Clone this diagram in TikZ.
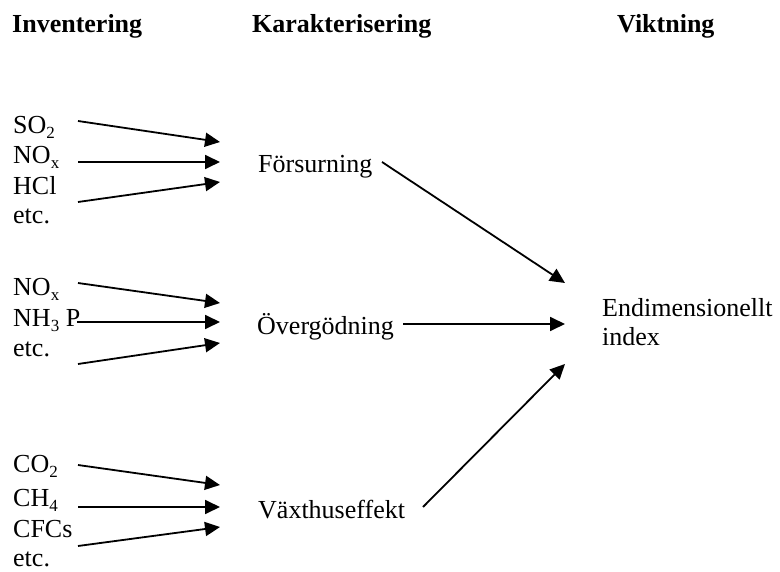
\documentclass[tikz,border=0pt]{standalone}
\usepackage{fontspec}
\setmainfont{Liberation Serif}
\usetikzlibrary{arrows.meta}
% chemical index set low and small
\newcommand\lowidx[1]{\raisebox{-5pt}{\fontsize{17}{17}\selectfont #1}}
\begin{document}
\begin{tikzpicture}[x=1pt,y=-1pt,
  lbl/.style={anchor=base west,inner sep=0pt,font=\fontsize{26}{30}\selectfont},
  head/.style={lbl,font=\fontsize{26}{30}\selectfont\bfseries},
  arr/.style={line width=1.8pt,-{Triangle[length=15pt,width=14pt]}}]
\useasboundingbox (0,0) rectangle (780,572);

% column headings
\node[head] (inv)  at (12,33)  {Inventering};
\node[head] (kar)  at (252,33) {Karakterisering};
\node[head] (vikt) at (617,33) {Viktning};

% inventory substances
\node[lbl] (so2)  at (13,134) {SO\lowidx{2}};
\node[lbl] (nox1) at (13,164) {NO\lowidx{x}};
\node[lbl] (hcl)  at (13,195) {HCl};
\node[lbl] (etc1) at (13,224) {etc.};

\node[lbl] (nox2) at (13,296) {NO\lowidx{x}};
\node[lbl] (nh3)  at (13,327) {NH\lowidx{3} P};
\node[lbl] (etc2) at (13,357) {etc.};

\node[lbl] (co2)  at (13,472) {CO\lowidx{2}};
\node[lbl] (ch4)  at (13,506) {CH\lowidx{4}};
\node[lbl] (cfc)  at (13,537) {CFCs};
\node[lbl] (etc3) at (13,566) {etc.};

% impact categories
\node[lbl] (fors) at (258,173) {Försurning};
\node[lbl] (over) at (257,335) {Övergödning};
\node[lbl] (vaxt) at (258,518) {Växthuseffekt};

% weighted result
\node[lbl] (endim) at (602,317) {Endimensionellt};
\node[lbl] (index) at (602,345) {index};

% arrow end points
\coordinate (a1s) at (78,121);  \coordinate (a1e) at (220,142);
\coordinate (a2s) at (78,162);  \coordinate (a2e) at (220,162);
\coordinate (a3s) at (78,202);  \coordinate (a3e) at (220,182);

\coordinate (b1s) at (78,283);  \coordinate (b1e) at (220,303);
\coordinate (b2s) at (77,322);  \coordinate (b2e) at (220,322);
\coordinate (b3s) at (78,364);  \coordinate (b3e) at (220,343);

\coordinate (c1s) at (78,465);  \coordinate (c1e) at (220,485);
\coordinate (c2s) at (78,507);  \coordinate (c2e) at (220,507);
\coordinate (c3s) at (78,546);  \coordinate (c3e) at (220,527);

\coordinate (d1s) at (382,162); \coordinate (d1e) at (565,283);
\coordinate (d2s) at (403,324); \coordinate (d2e) at (565,324);
\coordinate (d3s) at (423,507); \coordinate (d3e) at (565,364);

% substance arrows
\draw[arr] (a1s) -- (a1e);
\draw[arr] (a2s) -- (a2e);
\draw[arr] (a3s) -- (a3e);
\draw[arr] (b1s) -- (b1e);
\draw[arr] (b2s) -- (b2e);
\draw[arr] (b3s) -- (b3e);
\draw[arr] (c1s) -- (c1e);
\draw[arr] (c2s) -- (c2e);
\draw[arr] (c3s) -- (c3e);

% category arrows
\draw[arr] (d1s) -- (d1e);
\draw[arr] (d2s) -- (d2e);
\draw[arr] (d3s) -- (d3e);
\end{tikzpicture}
\end{document}
